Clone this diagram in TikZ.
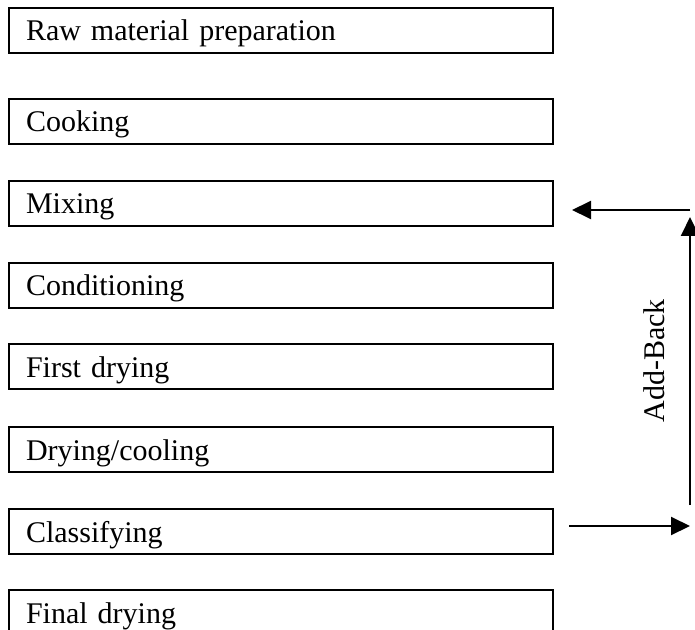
\documentclass[tikz,border=0pt]{standalone}
\usepackage{fontspec}
\setmainfont{Liberation Serif}
\usetikzlibrary{arrows.meta}

\begin{document}
\begin{tikzpicture}[x=0.5pt,y=-0.5pt,line width=1pt,
    stage/.style={draw,anchor=north west,inner xsep=8.5pt,inner ysep=0pt,
      text width=255pt,align=left,text height=16.5pt,text depth=6pt,
      font=\fontsize{15pt}{18pt}\selectfont},
    flow/.style={-{Triangle[length=9.5pt,width=9pt]}}]
              \useasboundingbox (0,0) rectangle (695,630);

              \node[stage] (raw) at (8,7) {Raw material preparation};
              \node[stage] (cook) at (8,98) {Cooking};
              \node[stage] (mix) at (8,180) {Mixing};
              \node[stage] (cond) at (8,262) {Conditioning};
              \node[stage] (dry1) at (8,343) {First drying};
              \node[stage] (cool) at (8,426) {Drying/cooling};
              \node[stage] (class) at (8,508) {Classifying};
              \node[stage] (final) at (8,589) {Final drying};

              % add-back loop
              \coordinate (backtop) at (690,210);
              \coordinate (upbot) at (690,505);
              \coordinate (uptop) at (690,217);
              \coordinate (outstart) at (569,526);
              \coordinate (outend) at (690,526);
              \coordinate (intip) at (572,210);

              \draw[flow] (outstart) -- (outend);
              \draw[flow] (upbot) -- (uptop);
              \draw[flow] (backtop) -- (intip);
              \node[rotate=90,font=\fontsize{15pt}{18pt}\selectfont] (addback) at (654,361) {Add-Back};
             \end{tikzpicture}
\end{document}
